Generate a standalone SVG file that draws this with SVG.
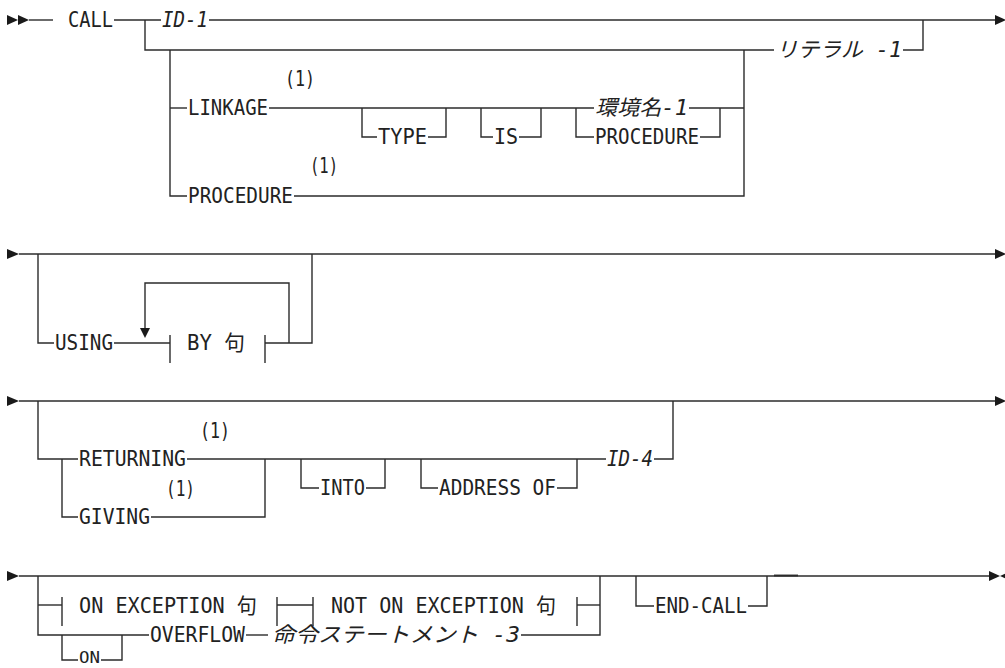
<svg xmlns="http://www.w3.org/2000/svg" width="1005" height="668" viewBox="0 0 1005 668">
<style>
.bg{fill:#ffffff}
.c{fill:none;stroke:#2b2b2b;stroke-width:1.4}
.a{fill:#1a1a1a;stroke:none}
.t{font-family:"DejaVu Sans Mono","Liberation Mono","Noto Sans CJK JP",monospace;font-size:21px;fill:#222}
.i{font-style:italic}
</style>
<rect class="bg" x="0" y="0" width="1005" height="668"/>
<g id="connectors">
  <!-- row 1 -->
  <polygon class="a" points="7,15 18,20 7,25"/>
  <polygon class="a" points="18,15 29,20 18,25"/>
  <path class="c" d="M29 20 H53"/>
  <path class="c" d="M114 20 H161"/>
  <path class="c" d="M209 20 H995"/>
  <polygon class="a" points="995,15 1006,20 995,25"/>
  <path class="c" d="M145 20 V50 H774"/>
  <path class="c" d="M903 50 H923 V20"/>
  <path class="c" d="M170 50 V196 H187"/>
  <path class="c" d="M170 108 H187"/>
  <path class="c" d="M269 108 H594"/>
  <path class="c" d="M689 108 H744"/>
  <path class="c" d="M744 50 V196 H294"/>
  <path class="c" d="M362 108 V137 H377"/>
  <path class="c" d="M428 137 H446 V108"/>
  <path class="c" d="M481 108 V137 H493"/>
  <path class="c" d="M519 137 H541 V108"/>
  <path class="c" d="M576 108 V137 H594"/>
  <path class="c" d="M700 137 H720 V108"/>
  <!-- row 2 -->
  <polygon class="a" points="7,249 19,254 7,259"/>
  <path class="c" d="M19 254 H995"/>
  <polygon class="a" points="995,249 1006,254 995,259"/>
  <path class="c" d="M38 254 V343 H54"/>
  <path class="c" d="M114 343 H170"/>
  <path class="c" d="M170 335 V363"/>
  <path class="c" d="M265 335 V363"/>
  <path class="c" d="M265 343 H312 V254"/>
  <path class="c" d="M289 343 V283 H145 V329"/>
  <polygon class="a" points="140,328 150,328 145,338"/>
  <!-- row 3 -->
  <polygon class="a" points="7,396 19,401 7,406"/>
  <path class="c" d="M19 401 H995"/>
  <polygon class="a" points="995,396 1006,401 995,406"/>
  <path class="c" d="M38 401 V459 H78"/>
  <path class="c" d="M62 459 V517 H78"/>
  <path class="c" d="M151 517 H265 V459"/>
  <path class="c" d="M187 459 H606"/>
  <path class="c" d="M301 459 V488 H319"/>
  <path class="c" d="M366 488 H385 V459"/>
  <path class="c" d="M421 459 V488 H438"/>
  <path class="c" d="M557 488 H577 V459"/>
  <path class="c" d="M654 459 H673 V401"/>
  <!-- row 4 -->
  <polygon class="a" points="7,571 19,576 7,581"/>
  <path class="c" d="M19 576 H990"/>
  <path class="c" d="M774 575.5 H798" style="stroke-width:1.9"/>
  <polygon class="a" points="989,571 1000,576 989,581"/>
  <polygon class="a" points="1011,571 1000,576 1011,581"/>
  <path class="c" d="M38 576 V635 H149"/>
  <path class="c" d="M38 605 H62"/>
  <path class="c" d="M62 597 V626"/>
  <path class="c" d="M277 597 V626"/>
  <path class="c" d="M277 605 H313"/>
  <path class="c" d="M313 597 V626"/>
  <path class="c" d="M577 597 V626"/>
  <path class="c" d="M577 605 H600"/>
  <path class="c" d="M600 576 V635 H521"/>
  <path class="c" d="M246 635 H268"/>
  <path class="c" d="M62 635 V660 H78"/>
  <path class="c" d="M101 660 H122 V635"/>
  <path class="c" d="M636 576 V606 H654"/>
  <path class="c" d="M748 606 H767 V576"/>
</g>
<g id="n-call"><text class="t" x="68" y="27" textLength="45" lengthAdjust="spacingAndGlyphs">CALL</text></g>
<g id="n-id1"><text class="t i" x="162" y="27" textLength="46" lengthAdjust="spacingAndGlyphs">ID-1</text></g>
<g id="n-literal1"><text class="t i" x="776" y="57" textLength="126" lengthAdjust="spacingAndGlyphs">リテラル -1</text></g>
<g id="n-note1a"><text class="t" x="285" y="86" textLength="30" lengthAdjust="spacingAndGlyphs">(1)</text></g>
<g id="n-linkage"><text class="t" x="188" y="115" textLength="80" lengthAdjust="spacingAndGlyphs">LINKAGE</text></g>
<g id="n-type"><text class="t" x="378" y="144" textLength="49" lengthAdjust="spacingAndGlyphs">TYPE</text></g>
<g id="n-is"><text class="t" x="494" y="144" textLength="24" lengthAdjust="spacingAndGlyphs">IS</text></g>
<g id="n-env1"><text class="t i" x="595" y="115" textLength="93" lengthAdjust="spacingAndGlyphs">環境名-1</text></g>
<g id="n-procedure2"><text class="t" x="595" y="144" textLength="104" lengthAdjust="spacingAndGlyphs">PROCEDURE</text></g>
<g id="n-note1b"><text class="t" x="310" y="173" textLength="28" lengthAdjust="spacingAndGlyphs">(1)</text></g>
<g id="n-procedure1"><text class="t" x="188" y="203" textLength="105" lengthAdjust="spacingAndGlyphs">PROCEDURE</text></g>
<g id="n-using"><text class="t" x="55" y="350" textLength="58" lengthAdjust="spacingAndGlyphs">USING</text></g>
<g id="n-byphrase"><text class="t" x="187" y="350" textLength="58" lengthAdjust="spacingAndGlyphs">BY 句</text></g>
<g id="n-note1c"><text class="t" x="200" y="438" textLength="30" lengthAdjust="spacingAndGlyphs">(1)</text></g>
<g id="n-returning"><text class="t" x="79" y="466" textLength="107" lengthAdjust="spacingAndGlyphs">RETURNING</text></g>
<g id="n-note1d"><text class="t" x="166" y="496" textLength="29" lengthAdjust="spacingAndGlyphs">(1)</text></g>
<g id="n-giving"><text class="t" x="79" y="524" textLength="71" lengthAdjust="spacingAndGlyphs">GIVING</text></g>
<g id="n-into"><text class="t" x="320" y="495" textLength="45" lengthAdjust="spacingAndGlyphs">INTO</text></g>
<g id="n-addressof"><text class="t" x="439" y="495" textLength="117" lengthAdjust="spacingAndGlyphs">ADDRESS OF</text></g>
<g id="n-id4"><text class="t i" x="607" y="466" textLength="46" lengthAdjust="spacingAndGlyphs">ID-4</text></g>
<g id="n-onexception"><text class="t" x="79" y="613" textLength="178" lengthAdjust="spacingAndGlyphs">ON EXCEPTION 句</text></g>
<g id="n-notonexception"><text class="t" x="331" y="613" textLength="225" lengthAdjust="spacingAndGlyphs">NOT ON EXCEPTION 句</text></g>
<g id="n-overflow"><text class="t" x="150" y="642" textLength="95" lengthAdjust="spacingAndGlyphs">OVERFLOW</text></g>
<g id="n-stmt3"><text class="t i" x="272" y="642" textLength="248" lengthAdjust="spacingAndGlyphs">命令ステートメント -3</text></g>
<g id="n-endcall"><text class="t" x="655" y="613" textLength="92" lengthAdjust="spacingAndGlyphs">END-CALL</text></g>
<g id="n-on"><text class="t" x="79" y="663" textLength="21" lengthAdjust="spacingAndGlyphs" style="font-size:15px">ON</text></g>
</svg>
